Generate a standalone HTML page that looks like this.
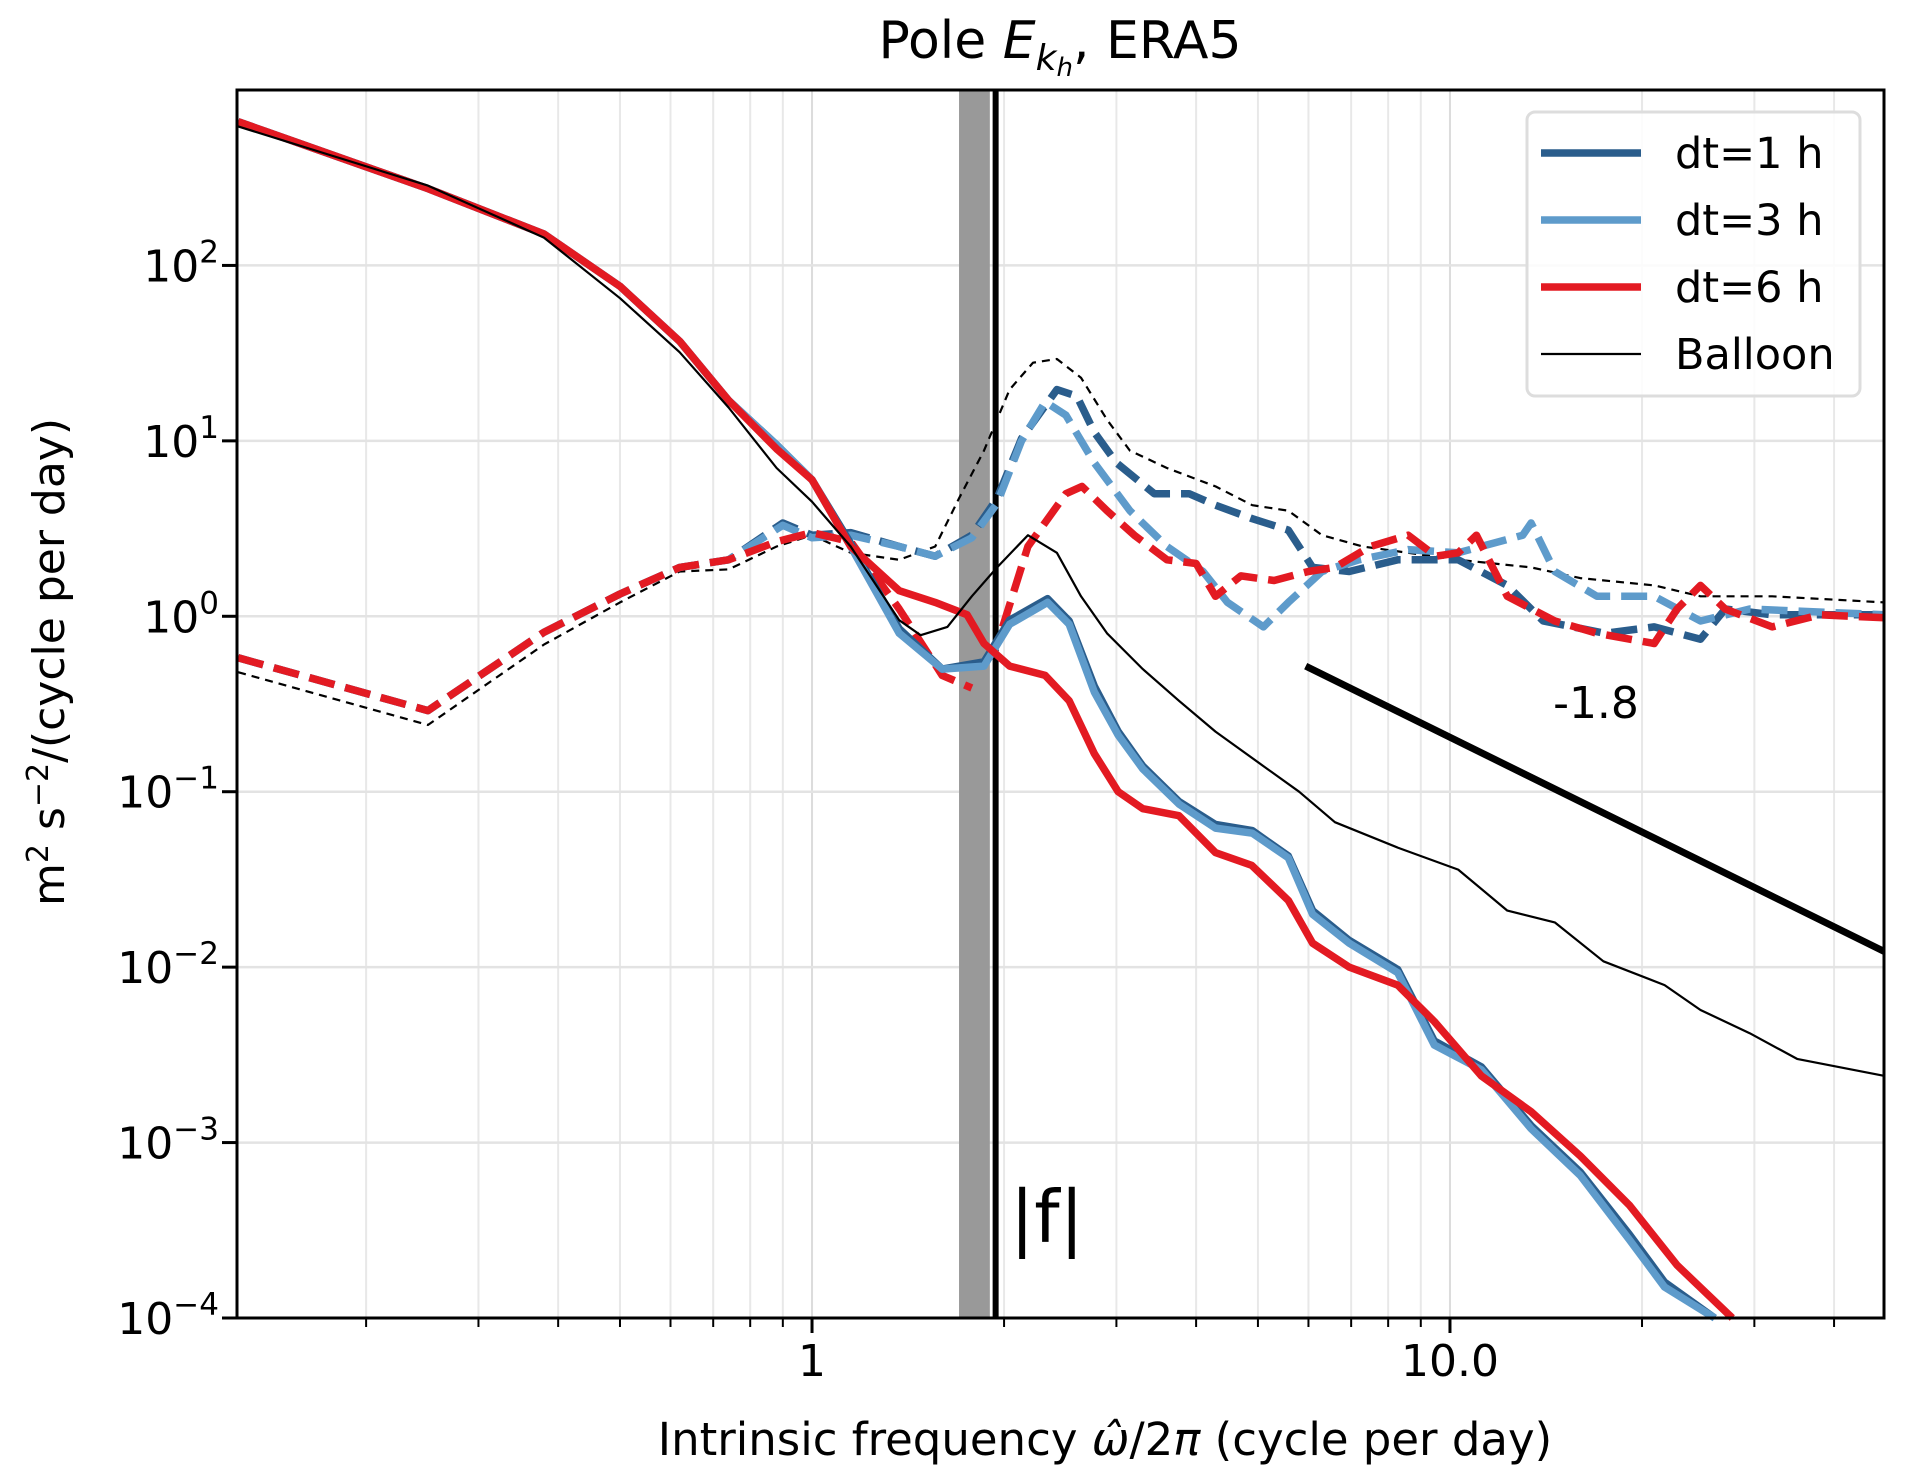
<!DOCTYPE html>
<html><head><meta charset="utf-8">
<style>
html,body{margin:0;padding:0;background:#fff;}
svg{display:block;font-family:"DejaVu Sans","Liberation Sans",sans-serif;}
</style></head>
<body>
<svg id="chart" width="1905" height="1483" viewBox="0 0 1905 1483" xmlns="http://www.w3.org/2000/svg">
<rect x="0" y="0" width="1905" height="1483" fill="#fff"/>
<g id="grid"></g>
<g id="band"></g>
<g id="series"></g>
<g id="axes"></g>
<text x="1060" y="58" font-size="52" text-anchor="middle">Pole <tspan font-style="italic">E</tspan><tspan font-style="italic" font-size="36" dy="12">k</tspan><tspan font-style="italic" font-size="26" dy="6">h</tspan><tspan dy="-18">, ERA5</tspan></text>
<text x="1105" y="1455" font-size="45" text-anchor="middle">Intrinsic frequency <tspan font-style="italic">ω̂</tspan>/2<tspan font-style="italic">π</tspan> (cycle per day)</text>
<text transform="translate(64,662) rotate(-90)" font-size="44" text-anchor="middle">m<tspan font-size="30" dy="-16">2</tspan><tspan dy="16"> s</tspan><tspan font-size="30" dy="-16">−2</tspan><tspan dy="16">/(cycle per day)</tspan></text>
<text x="1596" y="718" font-size="44" text-anchor="middle">-1.8</text>
<text x="1010" y="1242" font-size="72">|f|</text>
<g id="legend"></g>
</svg>
<script>
const NS="http://www.w3.org/2000/svg";
const L=237,R=1884,T=90,B=1318;
const xMin=0.1255,xMax=47.9,yMin=1e-4,yMax=1000;
function sx(v){return L+(Math.log10(v)-Math.log10(xMin))/(Math.log10(xMax)-Math.log10(xMin))*(R-L);}
function sy(v){return B-(Math.log10(v)-Math.log10(yMin))/(Math.log10(yMax)-Math.log10(yMin))*(B-T);}
function mk(tag,attrs,parent){const e=document.createElementNS(NS,tag);for(const k in attrs)e.setAttribute(k,attrs[k]);parent.appendChild(e);return e;}

const xTickValues=[1,10];
const xTickLabels=["1","10.0"];
const yTickValues=[1e-4,1e-3,1e-2,1e-1,1,10,100];
const yTickExps=["−4","−3","−2","−1","0","1","2"];

const x_red_s=[0.126,0.25,0.38,0.5,0.62,0.74,0.88,1.0,1.15,1.37,1.56,1.75,1.86,2.04,2.32,2.53,2.77,3.02,3.3,3.76,4.29,4.89,5.58,6.09,6.95,8.28,9.45,11.2,13.4,16,19.1,22.7,27.7];
const y_red_s=[660,274,151,76,37,17,9,6,2.5,1.4,1.2,1.02,0.7,0.52,0.46,0.33,0.165,0.1,0.08,0.073,0.045,0.038,0.024,0.0137,0.0100,0.0079,0.0049,0.0024,0.0015,0.00084,0.00044,0.0002,0.0001];
const x_blue_s=[0.126,0.25,0.38,0.5,0.62,0.74,0.88,1.0,1.15,1.37,1.6,1.86,2.04,2.34,2.53,2.77,3.02,3.3,3.76,4.29,4.9,5.58,6.09,6.95,8.28,9.45,11.2,13.4,16,19.1,21.7,26];
const y_dark_s=[660,274,151,76,37,17,9.5,6,2.6,0.85,0.5,0.55,0.95,1.26,0.94,0.4,0.22,0.14,0.088,0.065,0.06,0.043,0.021,0.0142,0.0097,0.0038,0.0027,0.00125,0.00068,0.0003,0.00016,0.0001];
const y_light_s=[660,274,151,76,37,17,9.5,6,2.5,0.8,0.5,0.52,0.9,1.2,0.9,0.37,0.21,0.135,0.085,0.062,0.058,0.042,0.02,0.0137,0.0093,0.0036,0.0026,0.0012,0.00065,0.00028,0.00015,0.0001];
const x_bal_s=[0.126,0.25,0.38,0.5,0.62,0.74,0.88,1.0,1.15,1.37,1.48,1.63,1.78,1.95,2.18,2.42,2.64,2.9,3.3,3.76,4.29,5.1,5.8,6.6,8.28,10.3,12.3,14.6,17.4,21.7,24.7,29.5,35,48];
const y_bal_s=[620,285,144,65,32,15.5,7,4.5,2.5,0.95,0.78,0.87,1.3,1.9,2.9,2.3,1.3,0.8,0.5,0.33,0.22,0.14,0.1,0.067,0.048,0.036,0.021,0.018,0.0108,0.0079,0.0057,0.0042,0.003,0.0024];

const x_red_lo=[0.126,0.25,0.38,0.5,0.62,0.74,0.88,1.0,1.15,1.37,1.6,1.78];
const y_red_lo=[0.58,0.29,0.81,1.34,1.9,2.1,2.66,3.0,2.66,1.1,0.46,0.39];
const x_red_hi=[1.99,2.18,2.5,2.65,2.9,3.2,3.6,4.0,4.29,4.7,5.3,6.0,6.6,7.5,8.6,9.5,10.3,11,12.3,14.6,17,20.9,22.7,24.7,27,32,38,48];
const y_red_hi=[0.87,2.5,5.0,5.5,4.0,2.9,2.1,2.0,1.3,1.7,1.6,1.8,1.9,2.5,2.9,2.2,2.3,2.9,1.3,0.94,0.8,0.7,1.1,1.5,1.1,0.87,1.02,0.98];
const x_dark_d=[0.126,0.25,0.38,0.5,0.62,0.74,0.9,1.0,1.15,1.37,1.56,1.78,1.95,2.13,2.42,2.6,2.77,3.0,3.44,3.9,4.29,4.9,5.58,6.09,6.95,8.28,10.3,12.3,14,17.5,20.9,24.7,27,32,48];
const y_dark_d=[0.58,0.29,0.81,1.34,1.9,2.1,3.4,2.9,3.0,2.5,2.2,2.9,4.7,10.3,19.6,18,11.2,7.5,5.0,5.0,4.3,3.6,3.1,1.9,1.8,2.1,2.1,1.5,0.94,0.8,0.87,0.74,1.1,1.02,1.02];
const x_light_d=[0.126,0.25,0.38,0.5,0.62,0.74,0.9,1.0,1.15,1.37,1.56,1.78,1.95,2.13,2.32,2.5,2.77,3.15,3.6,4.1,4.48,5.1,5.58,6.3,7.2,8.6,10.3,13,13.4,14.6,17,20.9,24.7,29.5,48];
const y_light_d=[0.58,0.29,0.81,1.34,1.9,2.1,3.3,2.8,2.9,2.5,2.2,2.8,4.4,10,16.7,14,7.5,4.0,2.5,1.8,1.2,0.87,1.2,1.8,2.1,2.4,2.3,2.9,3.4,1.8,1.3,1.3,0.94,1.1,1.02];
const x_bal_d=[0.126,0.25,0.38,0.5,0.62,0.74,0.88,1.0,1.15,1.37,1.56,1.7,1.86,2.04,2.22,2.42,2.64,2.9,3.15,3.6,4.29,4.9,5.58,6.3,7.3,10.3,13.4,16,20.9,24.7,32,48];
const y_bal_d=[0.48,0.24,0.69,1.2,1.8,1.85,2.5,2.9,2.3,2.1,2.5,4.7,8.8,19.6,27.9,29.3,22.9,13.2,8.8,7.0,5.5,4.3,4.0,2.9,2.5,2.1,1.9,1.65,1.5,1.3,1.3,1.2];

const slopeX=[5.94,47.9];
const slopeY=[0.52,0.0123];
const bandX=[1.70,1.90];
const fLine=1.94;

const grid=document.getElementById('grid');
for(let d=-1;d<=1;d++){for(let m=1;m<10;m++){const v=m*Math.pow(10,d);if(v<xMin||v>xMax)continue;const X=sx(v);
 const g=mk('line',{x1:X,x2:X,y1:T,y2:B,stroke:m===1?'#dcdcdc':'#e8e8e8','stroke-width':2},grid);
 
 }}
for(let d=-4;d<3;d++){const Y=sy(Math.pow(10,d));
 const g=mk('line',{x1:L,x2:R,y1:Y,y2:Y,stroke:'#e3e3e3','stroke-width':2.5},grid);
 
 }

const band=document.getElementById('band');
const br=mk('rect',{x:sx(bandX[0]),y:T,width:sx(bandX[1])-sx(bandX[0]),height:B-T,fill:'#999'},band);


const fl=mk('line',{x1:sx(fLine),x2:sx(fLine),y1:T,y2:B,stroke:'#000','stroke-width':6},band);



const S=document.getElementById('series');
function path(xs,ys,color,w,dash,name){let d='';for(let i=0;i<xs.length;i++){d+=(i?'L':'M')+sx(xs[i]).toFixed(1)+','+sy(ys[i]).toFixed(1);}
 const p=mk('path',{d:d,fill:'none',stroke:color,'stroke-width':w,'stroke-linejoin':'round'},S);
 if(dash)p.setAttribute('stroke-dasharray',dash);
 
 
 return p;}
const C1='#2a5d8c',C3='#5e9bcb',C6='#e31a22';
path(x_bal_d,y_bal_d,'#000',2.2,'8,6','balloon-dashed');
path(x_dark_d,y_dark_d,C1,7.5,'26,11','dt1-dashed');
path(x_light_d,y_light_d,C3,7.5,'26,11','dt3-dashed');
path(x_red_lo,y_red_lo,C6,7.5,'26,11','dt6-dashed-low');
path(x_red_hi,y_red_hi,C6,7.5,'26,11','dt6-dashed-high');
path(x_blue_s,y_dark_s,C1,7.5,null,'dt1-solid');
path(x_blue_s,y_light_s,C3,7.5,null,'dt3-solid');
path(x_red_s,y_red_s,C6,7.5,null,'dt6-solid');
path(x_bal_s,y_bal_s,'#000',2.2,null,'balloon-solid');
path(slopeX,slopeY,'#000',7,null,'slope-reference-line');

const A=document.getElementById('axes');
const fr=mk('rect',{x:L,y:T,width:R-L,height:B-T,fill:'none',stroke:'#000','stroke-width':3},A);


for(let d=-1;d<=1;d++){for(let m=1;m<10;m++){const v=m*Math.pow(10,d);if(v<xMin||v>xMax)continue;const X=sx(v);
 const t=mk('line',{x1:X,x2:X,y1:B,y2:B+(m===1?15:9),stroke:'#000','stroke-width':m===1?3:2},A);
 
 }}
xTickValues.forEach((v,i)=>{const t=mk('text',{x:sx(v),y:B+58,'font-size':44,'text-anchor':'middle'},A);t.textContent=xTickLabels[i];
 
 });
yTickValues.forEach((v,i)=>{const Y=sy(v);
 const tk=mk('line',{x1:L-15,x2:L,y1:Y,y2:Y,stroke:'#000','stroke-width':3},A);
 
 
 const t=mk('text',{x:219,y:Y+16,'font-size':44,'text-anchor':'end'},A);
 t.textContent='10';
 const sp=mk('tspan',{'font-size':31,dy:-19},t);sp.textContent=yTickExps[i];
 
 });

const LG=document.getElementById('legend');
const lb=mk('rect',{x:1527,y:112,width:333,height:284,rx:8,fill:'#fff','fill-opacity':0.85,stroke:'#ddd','stroke-width':3},LG);


const legNames=['dt=1 h','dt=3 h','dt=6 h','Balloon'];
const legColors=[C1,C3,C6,'#000'];
const legW=[7.5,7.5,7.5,2.2];
legNames.forEach((n,i)=>{const Y=153+i*67;
 const l=mk('line',{x1:1541,x2:1641,y1:Y,y2:Y,stroke:legColors[i],'stroke-width':legW[i]},LG);
 
 
 const t=mk('text',{x:1675,y:Y+15,'font-size':43},LG);t.textContent=n;
 
 });
</script>
</body></html>
